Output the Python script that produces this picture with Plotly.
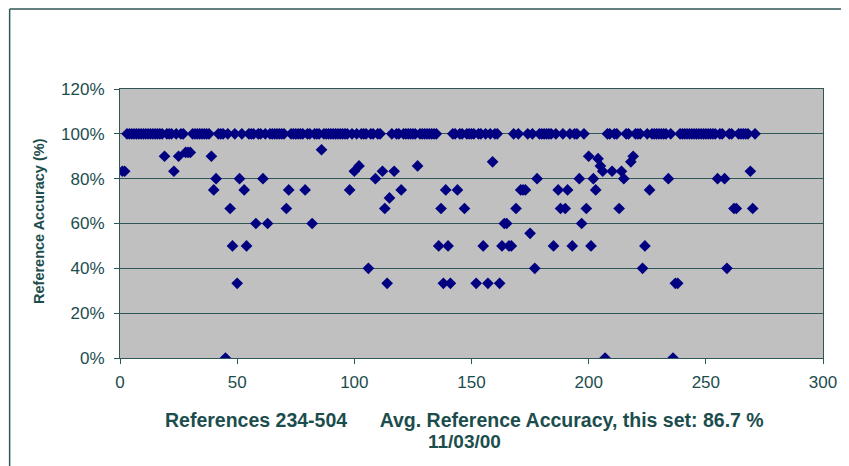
import plotly.graph_objects as go

# Reference numbers (234-504 -> 1..271) and measured accuracy (%)
reference_index = list(range(1, 272))
accuracy_pct = [100.0] * 271
# values that are not 100%: (reference index, accuracy %)
off_ref = [1, 2, 19, 23, 25, 28, 29, 30, 39, 40, 41, 45, 47, 48, 50, 51, 53, 54, 58, 61,
           63, 71, 72, 79, 82, 86, 98, 100, 102, 106, 109, 112, 113, 114, 115, 117, 120, 127,
           136, 137, 138, 139, 140, 141, 144, 147, 152, 155, 157, 159, 162, 163, 164, 165,
           166, 167, 169, 171, 172, 173, 175, 177, 178, 185, 187, 188, 190, 191, 193, 196,
           197, 199, 200, 201, 202, 203, 204, 205, 206, 207, 210, 213, 214, 215, 218, 219,
           223, 224, 226, 234, 236, 237, 238, 255, 258, 259, 262, 263, 269, 270]
off_val = [83.3, 83.3, 90, 83.3, 90, 91.7, 91.7, 91.7, 90, 75, 80, 0, 66.7, 50, 33.3, 80,
           75, 50, 60, 80, 60, 66.7, 75, 75, 60, 92.9, 75, 83.3, 85.7, 40, 80, 83.3, 66.7,
           33.3, 71.4, 83.3, 75, 85.7, 50, 66.7, 33.3, 75, 50, 33.3, 75, 66.7, 33.3, 50,
           33.3, 87.5, 33.3, 50, 60, 60, 50, 50, 66.7, 75, 75, 75, 55.6, 40, 80, 50, 75,
           66.7, 66.7, 75, 50, 80, 60, 66.7, 90, 50, 80, 75, 88.9, 85.7, 83.3, 0, 83.3,
           66.7, 83.3, 80, 87.5, 90, 40, 50, 75, 80, 0, 33.3, 33.3, 80, 80, 40, 66.7,
           66.7, 83.3, 66.7]
for r, v in zip(off_ref, off_val):
    accuracy_pct[r - 1] = v

y_tick_vals = [0, 20, 40, 60, 80, 100, 120]
y_tick_text = ["0%", "20%", "40%", "60%", "80%", "100%", "120%"]
x_tick_vals = [0, 50, 100, 150, 200, 250, 300]

y_title = "Reference Accuracy (%)"
gap = "&nbsp;" * 6
x_title_line1 = "References 234-504" + gap + "Avg. Reference Accuracy, this set: 86.7 %"
x_title_line2 = "11/03/00"

ink = "#1c4d4d"
grid = "#2f5757"

fig = go.Figure()
fig.add_trace(go.Scatter(
    x=reference_index, y=accuracy_pct, mode="markers",
    marker=dict(symbol="diamond", size=9, color="#000080", line=dict(width=0)),
    showlegend=False, hoverinfo="skip"))

# the page body adds an 8px offset, so the figure is 8px smaller than the window
fig.update_layout(
    width=841, height=458,
    margin=dict(l=112, r=20, t=81, b=108),
    paper_bgcolor="white", plot_bgcolor="#C0C0C0",
    font=dict(family="Liberation Sans, Arial, sans-serif", size=14, color=ink),
)
fig.update_xaxes(
    range=[0, 300], tickvals=x_tick_vals, showgrid=False, zeroline=False,
    showline=True, linecolor=grid, linewidth=1, mirror=True,
    ticks="outside", ticklen=5, tickcolor=grid, ticklabelstandoff=4,
    tickfont=dict(size=17, color=ink), fixedrange=True,
)
fig.update_yaxes(
    range=[0, 120], tickvals=y_tick_vals, ticktext=y_tick_text,
    showgrid=True, gridcolor=grid, gridwidth=1, zeroline=False,
    showline=True, linecolor=grid, linewidth=1, mirror=True,
    ticks="outside", ticklen=5, tickcolor=grid, ticklabelstandoff=6,
    tickfont=dict(size=17, color=ink), fixedrange=True,
)

fig.add_annotation(text="<b>" + y_title + "</b>", xref="paper", yref="paper",
                   x=-0.115, y=0.51, textangle=-90, showarrow=False,
                   font=dict(size=14.5, color=ink), xanchor="center", yanchor="middle")
fig.add_annotation(text="<b>" + x_title_line1 + "</b>", xref="paper", yref="paper",
                   x=0.49, y=-0.230, showarrow=False,
                   font=dict(size=19.5, color=ink), xanchor="center", yanchor="middle")
fig.add_annotation(text="<b>" + x_title_line2 + "</b>", xref="paper", yref="paper",
                   x=0.49, y=-0.312, showarrow=False,
                   font=dict(size=19, color=ink), xanchor="center", yanchor="middle")

# outer chart frame (left and top edges visible)
fig.add_shape(type="line", xref="paper", yref="paper", x0=-0.157, x1=1.05,
              y0=1.297, y1=1.297, line=dict(color=grid, width=1.5))
fig.add_shape(type="line", xref="paper", yref="paper", x0=-0.157, x1=-0.157,
              y0=1.297, y1=-0.42, line=dict(color=grid, width=1.5))

fig.write_html("out.html")
